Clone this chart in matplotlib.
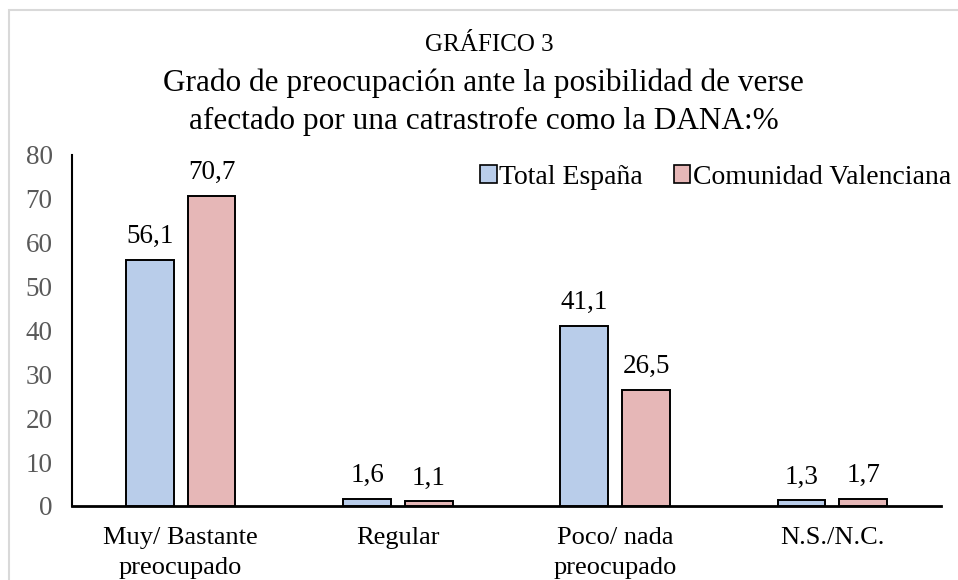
import matplotlib
matplotlib.use("Agg")
import matplotlib.pyplot as plt
from matplotlib.patches import Rectangle, Patch
import numpy as np

plt.rcParams['font.family'] = ['Liberation Serif', 'DejaVu Serif']

categories = ["Muy/ Bastante\npreocupado", "Regular", "Poco/ nada\npreocupado", "N.S./N.C."]
series_names = ["Total España", "Comunidad Valenciana"]
total_espana = [56.1, 1.6, 41.1, 1.3]
comunidad_valenciana = [70.7, 1.1, 26.5, 1.7]
yticks = [0, 10, 20, 30, 40, 50, 60, 70, 80]

colors = ["#B9CDEA", "#E6B7B7"]

fig = plt.figure(figsize=(9.58, 5.8), dpi=100)
ax = fig.add_axes([0.0752, 0.1276, 0.9823 - 0.0752, 0.7328 - 0.1276])

# light gray outer frame (only top and left edges visible)
fig.patches.append(Rectangle((9/958, -0.3), 1.5, 1.3 - 10/580, transform=fig.transFigure,
                             fill=False, edgecolor="#D9D9D9", linewidth=1.5, zorder=0))

x = np.arange(len(categories))
w = 0.22
off = 0.142
vals = [total_espana, comunidad_valenciana]
for i, (name, v) in enumerate(zip(series_names, vals)):
    pos = x + (-off if i == 0 else off)
    ax.bar(pos, v, width=w, color=colors[i], edgecolor="black", linewidth=1.4,
           label=name, zorder=3)
    for xx, val in zip(pos, v):
        ax.annotate(f"{val:.1f}".replace(".", ","), (xx, val), xytext=(0, 12),
                    textcoords="offset points", ha="center", va="baseline",
                    fontsize=19.5, color="black")

ax.set_xlim(-0.5, len(categories) - 0.5)
ax.set_ylim(0, 80)
ax.set_yticks(yticks)
ax.set_yticklabels([str(t) for t in yticks], fontsize=19.5, color="#595959")
ax.set_xticks(x)
ax.set_xticklabels(categories, fontsize=19, color="black", linespacing=1.5)
ax.tick_params(axis="both", length=0)
ax.tick_params(axis="y", pad=14)
ax.tick_params(axis="x", pad=15)
for s in ["top", "right"]:
    ax.spines[s].set_visible(False)
ax.spines["left"].set_linewidth(1.5)
ax.spines["bottom"].set_linewidth(2)

handles = [Patch(facecolor=colors[i], edgecolor="black", linewidth=1.2, label=series_names[i])
           for i in range(2)]
fig.legend(handles=handles, loc="center right", bbox_to_anchor=(0.993, 1 - 177/580),
           ncol=2, frameon=False, fontsize=20, handlelength=0.6, handleheight=0.6,
           handletextpad=0.1, columnspacing=1.1, borderaxespad=0, borderpad=0)

fig.text(0.511, 1 - 45/580, "GRÁFICO 3", ha="center", va="center", fontsize=18)
fig.text(0.505, 1 - 83/580, "Grado de preocupación ante la posibilidad de verse",
         ha="center", va="center", fontsize=22.5)
fig.text(0.505, 1 - 121/580, "afectado por una catrastrofe como la DANA:%",
         ha="center", va="center", fontsize=22.5)

fig.savefig("out.png", dpi=100)
